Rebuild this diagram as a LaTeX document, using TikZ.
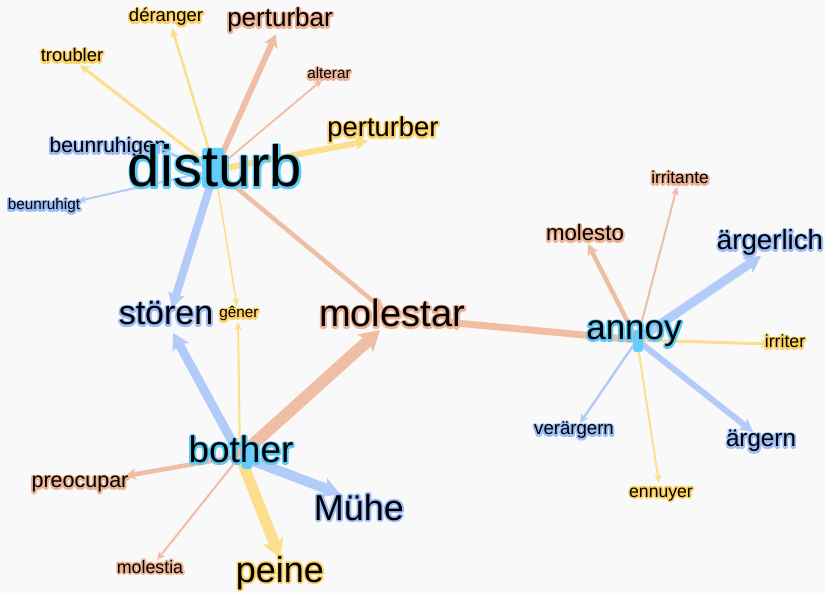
\documentclass[tikz,border=0pt]{standalone}
\usepackage{fontspec}
\setmainfont{Liberation Sans}
\usetikzlibrary{arrows.meta}

% edge colours
\definecolor{edgeB}{HTML}{B2CBF8}
\definecolor{edgeO}{HTML}{EFBEA4}
\definecolor{edgeY}{HTML}{FDDE8C}
% halo colours behind the words
\definecolor{haloB}{HTML}{9DBDF6}
\definecolor{haloO}{HTML}{EDB294}
\definecolor{haloY}{HTML}{FCD163}
\definecolor{haloC}{HTML}{5BCBF8}
\definecolor{hubfill}{HTML}{66CCFF}
\definecolor{paper}{HTML}{F9F9F9}

% black text over a stroked copy of itself in the halo colour
\newcommand\halotext[2]{%
  \setbox0=\hbox{#2}%
  \rlap{\special{pdf:literal direct 1 Tr 3.6 w 1 j 1 J}{\color{#1}#2}\special{pdf:literal direct 0 Tr}}%
  \box0}
\newcommand\wB[1]{\halotext{haloB}{#1}}
\newcommand\wO[1]{\halotext{haloO}{#1}}
\newcommand\wY[1]{\halotext{haloY}{#1}}
\newcommand\wC[1]{\halotext{haloC}{#1}}

\tikzset{
  edge/.style={line width=#1, -{Stealth[length=5.5pt 1.2, width=4pt 1.6, inset=1pt 0.3]}},
  lbl/.style={inner sep=0pt, anchor=base, text=black, font=\fontsize{#1}{#1}\selectfont},
  hubdot/.style={fill=hubfill, draw=none, rounded corners=3pt, inner sep=0pt}
}

\begin{document}
\begin{tikzpicture}[x=1pt, y=-1pt]
  \fill[paper] (0,0) rectangle (825,593);
  \useasboundingbox (0,0) rectangle (825,593);

  % hub points
  \coordinate (hD) at (215,170);
  \coordinate (hB) at (240,456);
  \coordinate (hA) at (637,340);

  % arrow tips
  \coordinate (tDeranger) at (172,28);
  \coordinate (tTroubler) at (80,65);
  \coordinate (tPerturbar) at (276,34);
  \coordinate (tAlterar) at (322,80);
  \coordinate (tPerturber) at (368,141);
  \coordinate (tBeunruhigen) at (160,150);
  \coordinate (tBeunruhigt) at (78,201);
  \coordinate (tStorenD) at (172,308);
  \coordinate (tGenerD) at (237,306);
  \coordinate (tMolestarD) at (385,311);
  \coordinate (tStorenB) at (173,333);
  \coordinate (tGenerB) at (238,322);
  \coordinate (tMolestarB) at (380,330);
  \coordinate (tPreocupar) at (125,476);
  \coordinate (tMolestia) at (157,560);
  \coordinate (tPeine) at (280,558);
  \coordinate (tMuehe) at (340,494);
  \coordinate (tMolestarA) at (445,322);
  \coordinate (tMolesto) at (588,244);
  \coordinate (tIrritante) at (677,187);
  \coordinate (tAergerlich) at (761,256);
  \coordinate (tIrriter) at (770,344);
  \coordinate (tAergern) at (753,432);
  \coordinate (tEnnuyer) at (659,483);
  \coordinate (tVeraergern) at (580,423);

  % edges from "disturb"
  \draw[edge=2.5, edgeY] (hD) -- (tDeranger);
  \draw[edge=3, edgeY] (hD) -- (tTroubler);
  \draw[edge=6, edgeO] (hD) -- (tPerturbar);
  \draw[edge=1.8, edgeO] (hD) -- (tAlterar);
  \draw[edge=6, edgeY] (hD) -- (tPerturber);
  \draw[edge=3, edgeB] (hD) -- (tBeunruhigen);
  \draw[edge=2, edgeB] (hD) -- (tBeunruhigt);
  \draw[edge=8, edgeB] (hD) -- (tStorenD);
  \draw[edge=1.5, edgeY] (hD) -- (tGenerD);
  \draw[edge=4.5, edgeO] (hD) -- (tMolestarD);

  % edges from "bother"
  \draw[edge=9, edgeB] (hB) -- (tStorenB);
  \draw[edge=2, edgeY] (hB) -- (tGenerB);
  \draw[edge=12, edgeO] (hB) -- (tMolestarB);
  \draw[edge=4.5, edgeO] (hB) -- (tPreocupar);
  \draw[edge=2, edgeO] (hB) -- (tMolestia);
  \draw[edge=11, edgeY] (hB) -- (tPeine);
  \draw[edge=10, edgeB] (hB) -- (tMuehe);

  % edges from "annoy"
  \draw[edge=7, edgeO] (hA) -- (tMolestarA);
  \draw[edge=4.5, edgeO] (hA) -- (tMolesto);
  \draw[edge=2, edgeO] (hA) -- (tIrritante);
  \draw[edge=9, edgeB] (hA) -- (tAergerlich);
  \draw[edge=3, edgeY] (hA) -- (tIrriter);
  \draw[edge=6, edgeB] (hA) -- (tAergern);
  \draw[edge=2, edgeY] (hA) -- (tEnnuyer);
  \draw[edge=2.5, edgeB] (hA) -- (tVeraergern);

  % hub markers
  \node[hubdot, minimum width=22pt, minimum height=40pt] (dotD) at (213,168) {};
  \node[hubdot, minimum width=11pt, minimum height=22pt] (dotB) at (247,458) {};
  \node[hubdot, minimum width=10pt, minimum height=22pt] (dotA) at (638,341) {};

  % words
  \node[lbl=26] (perturbar) at (280,27) {\wO{perturbar}};
  \node[lbl=18.5] (deranger) at (166,22) {\wY{déranger}};
  \node[lbl=18.4] (troubler) at (72,62) {\wY{troubler}};
  \node[lbl=15.3] (alterar) at (329,79) {\wO{alterar}};
  \node[lbl=27.4] (perturber) at (383,137) {\wY{perturber}};
  \node[lbl=21] (beunruhigen) at (108,153) {\wB{beunruhigen}};
  \node[lbl=15.3] (beunruhigt) at (44,210) {\wB{beunruhigt}};
  \node[lbl=58] (disturb) at (215,187) {\wC{disturb}};

  \node[lbl=34] (storen) at (166,325) {\wB{stören}};
  \node[lbl=15.3] (gener) at (239,318) {\wY{gêner}};
  \node[lbl=38] (molestar) at (392,327) {\wO{molestar}};
  \node[lbl=21.5] (preocupar) at (80,488) {\wO{preocupar}};
  \node[lbl=17.8] (molestia) at (150,573) {\wO{molestia}};
  \node[lbl=36] (peine) at (280,582) {\wY{peine}};
  \node[lbl=36] (muehe) at (359,520) {\wB{Mühe}};
  \node[lbl=37] (bother) at (241,463) {\wC{bother}};

  \node[lbl=22.2] (molesto) at (585,241) {\wO{molesto}};
  \node[lbl=17.2] (irritante) at (680,184) {\wO{irritante}};
  \node[lbl=27.7] (aergerlich) at (770,250) {\wB{ärgerlich}};
  \node[lbl=17.7] (irriter) at (785,348) {\wY{irriter}};
  \node[lbl=18.6] (veraergern) at (574,435) {\wB{verärgern}};
  \node[lbl=24.2] (aergern) at (761,447) {\wB{ärgern}};
  \node[lbl=17.6] (ennuyer) at (661,497) {\wY{ennuyer}};
  \node[lbl=35] (annoy) at (634,340) {\wC{annoy}};
\end{tikzpicture}
\end{document}
